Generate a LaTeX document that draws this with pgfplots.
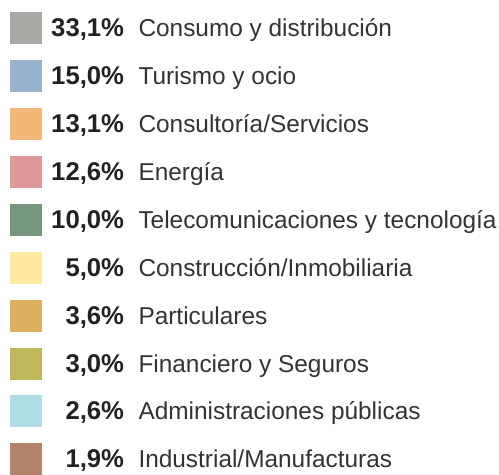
\documentclass[border=0pt]{standalone}
\usepackage{pgfplots}
\usepackage{pgfplotstable}
\pgfplotsset{compat=1.18}
\usepackage{fontspec}
\setmainfont{Liberation Sans}

\definecolor{c1}{HTML}{A9AAA5}
\definecolor{c2}{HTML}{98B3CD}
\definecolor{c3}{HTML}{F0B777}
\definecolor{c4}{HTML}{DE9A9A}
\definecolor{c5}{HTML}{76967D}
\definecolor{c6}{HTML}{FFE9A0}
\definecolor{c7}{HTML}{DCB05E}
\definecolor{c8}{HTML}{BEB85A}
\definecolor{c9}{HTML}{ADDFE4}
\definecolor{c10}{HTML}{B2826C}
\definecolor{pctcol}{HTML}{222222}
\definecolor{txtcol}{HTML}{333333}

% row centre (px from top), share, sector
\pgfplotstableread[col sep=semicolon]{
y;pct;name
28.2;33.1;Consumo y distribución
76.1;15.0;Turismo y ocio
124.0;13.1;Consultoría/Servicios
171.9;12.6;Energía
219.8;10.0;Telecomunicaciones y tecnología
267.7;5.0;Construcción/Inmobiliaria
315.6;3.6;Particulares
363.5;3.0;Financiero y Seguros
411.4;2.6;Administraciones públicas
459.3;1.9;Industrial/Manufacturas
}\sectores

\begin{document}
\begin{tikzpicture}
\begin{axis}[
    width=499bp, height=468bp, scale only axis,
    xmin=0, xmax=499, ymin=0, ymax=468,
    y dir=reverse,
    hide axis, clip=false,
    /pgf/number format/assume math mode=true,
    sq/.style={only marks, color=#1, mark=square*, mark size=15.5bp,
        mark options={draw=#1, fill=#1, line width=0pt}}
]
\path (rel axis cs:0,0) rectangle (rel axis cs:1,1);

% colour squares
\addplot[sq=c1] coordinates {(25.5,28.2)};
\addplot[sq=c2] coordinates {(25.5,76.1)};
\addplot[sq=c3] coordinates {(25.5,124.0)};
\addplot[sq=c4] coordinates {(25.5,171.9)};
\addplot[sq=c5] coordinates {(25.5,219.8)};
\addplot[sq=c6] coordinates {(25.5,267.7)};
\addplot[sq=c7] coordinates {(25.5,315.6)};
\addplot[sq=c8] coordinates {(25.5,363.5)};
\addplot[sq=c9] coordinates {(25.5,411.4)};
\addplot[sq=c10] coordinates {(25.5,459.3)};

% percentages
\addplot[draw=none, mark=none, point meta=explicit,
    nodes near coords={\pgfmathprintnumber[fixed,fixed zerofill,precision=1,use comma,assume math mode=true]{\pgfplotspointmeta}\%},
    every node near coord/.append style={anchor=base east, inner sep=0pt, yshift=-8.5bp,
        text=pctcol, font=\bfseries\fontsize{25.7bp}{30bp}\selectfont}
] table[x expr=124.3, y=y, meta=pct] {\sectores};

% sector names
\addplot[draw=none, mark=none, point meta=explicit symbolic,
    nodes near coords,
    every node near coord/.append style={anchor=base west, inner sep=0pt, yshift=-8.5bp,
        text=txtcol, font=\fontsize{24.4bp}{30bp}\selectfont}
] table[x expr=138.3, y=y, meta=name] {\sectores};
\end{axis}
\end{tikzpicture}
\end{document}
